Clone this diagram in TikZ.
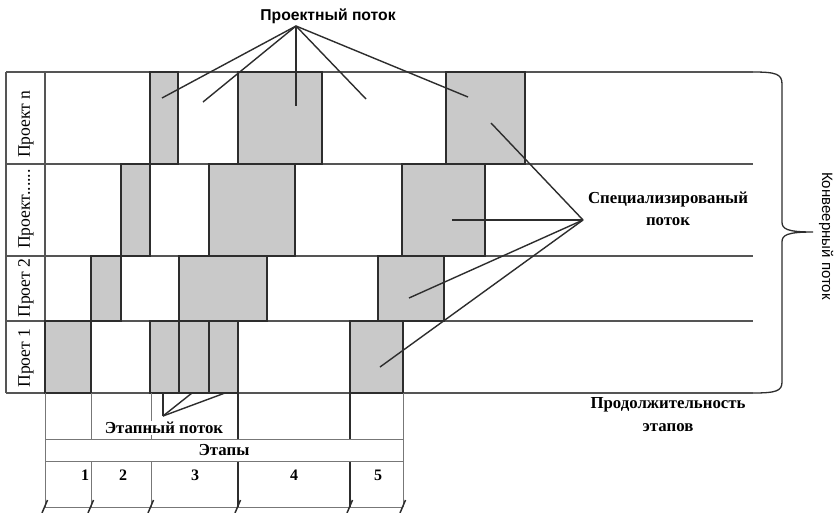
\documentclass[tikz,border=0pt]{standalone}
\usepackage{fontspec}
\setmainfont{Liberation Serif}
\setsansfont{Liberation Sans}
\definecolor{barfill}{RGB}{201,201,201}
\definecolor{ink}{RGB}{45,45,45}
\definecolor{rule}{RGB}{85,85,85}
\begin{document}
\begin{tikzpicture}[x=1pt,y=-1pt,
  rowline/.style={draw=rule,line width=1.1pt},
  thinline/.style={draw=rule!80,line width=0.9pt},
  darkline/.style={draw=ink,line width=1.3pt},
  bar/.style={fill=barfill,draw=ink,line width=2.2pt},
  fan/.style={draw=ink,line width=1.4pt},
  rowlabel/.style={font=\fontsize{17.6}{17.6}\selectfont,rotate=90,inner sep=0pt},
  boldlabel/.style={font=\fontsize{16.8}{16.8}\selectfont\bfseries,inner sep=1pt},
  numlabel/.style={font=\fontsize{16}{16}\selectfont\bfseries,inner sep=0pt},
  tick/.style={draw=ink,line width=1.5pt}]
\useasboundingbox (0,0) rectangle (837,512);
\fill[white] (0,0) rectangle (837,512);
% row lines
\foreach \yy in {72,164,256,321,393}
  \draw[rowline] (6,\yy) -- (753,\yy);
\draw[rowline] (6,72) -- (6,393);
\draw[rowline] (45,72) -- (45,393);
% bars
\foreach \a/\b/\c/\d in {150/178/72/164, 238/322/72/164, 446/525/72/164,
  121/150/164/256, 209/295/164/256, 402/485/164/256,
  91/121/256/321, 179/267/256/321, 378/444/256/321,
  45/91/321/393, 150/179/321/393, 179/209/321/393, 209/238/321/393, 350/403/321/393}
  \path[bar] (\a,\c) rectangle (\b,\d);
% row labels
\node[rowlabel] (pn) at (26,124) {Проект n};
\node[rowlabel] (pd) at (26,209) {Проект......};
\node[rowlabel] (p2) at (26,288) {Проет 2};
\node[rowlabel] (p1) at (26,358) {Проет 1};
% lower table
\foreach \xx in {45,403}
  \draw[thinline] (\xx,393) -- (\xx,507);
\foreach \xx in {91,151}
  \draw[thinline] (\xx,393) -- (\xx,439) (\xx,461) -- (\xx,507);
\foreach \xx in {238,350}
  \draw[darkline] (\xx,393) -- (\xx,439) (\xx,461) -- (\xx,507);
\draw[thinline] (45,439) -- (403,439);
\draw[thinline] (45,461) -- (403,461);
\draw[thinline] (45,507) -- (403,507);
\foreach \xx in {45,91,151,238,350,403}
  \draw[tick] (\xx-3,513) -- (\xx+2.5,500);
\node[boldlabel,fill=white] (etap) at (164,428) {Этапный поток};
\node[boldlabel] (etapy) at (224,450) {Этапы};
\node[numlabel] (n1) at (85,475) {1};
\node[numlabel] (n2) at (123,475) {2};
\node[numlabel] (n3) at (195,475) {3};
\node[numlabel] (n4) at (294,475) {4};
\node[numlabel] (n5) at (378,475) {5};
% stage flow fan
\coordinate (E) at (163,416);
\coordinate (e1) at (163,393);
\coordinate (e2) at (192,393);
\coordinate (e3) at (225,393);
\foreach \t in {e1,e2,e3} \draw[fan] (E) -- (\t);
% project flow
\node[font=\fontsize{15.7}{15.7}\selectfont\sffamily\bfseries,inner sep=0pt] (proj) at (328,16) {Проектный поток};
\coordinate (P) at (296,26);
\coordinate (t1) at (162,98);
\coordinate (t2) at (203,102);
\coordinate (t3) at (296,106);
\coordinate (t4) at (366,99);
\coordinate (t5) at (468,97);
\foreach \t in {t1,t2,t3,t4,t5} \draw[fan] (P) -- (\t);
% specialised flow
\node[boldlabel] (spec) at (668,199) {Специализированый};
\node[boldlabel] (spec2) at (668,222) {поток};
\coordinate (S) at (583,220);
\coordinate (s1) at (491,123);
\coordinate (s2) at (452,220);
\coordinate (s3) at (409,298);
\coordinate (s4) at (380,367);
\foreach \t in {s1,s2,s3,s4} \draw[fan] (S) -- (\t);
% duration
\node[boldlabel] (dur) at (668,405) {Продолжительность};
\node[boldlabel] (dur2) at (668,428) {этапов};
% brace
\draw[draw=ink,line width=1.3pt] (753,72) .. controls (776,72) and (782,74) .. (782,84)
  -- (782,222) .. controls (782,229) and (787,232) .. (813,232)
  .. controls (787,232) and (782,235) .. (782,242)
  -- (782,382) .. controls (782,391) and (776,393) .. (753,393);
\node[font=\fontsize{15}{15}\selectfont\sffamily,rotate=-90,inner sep=0pt] (conv) at (826,236) {Конвеерный поток};
\end{tikzpicture}
\end{document}
